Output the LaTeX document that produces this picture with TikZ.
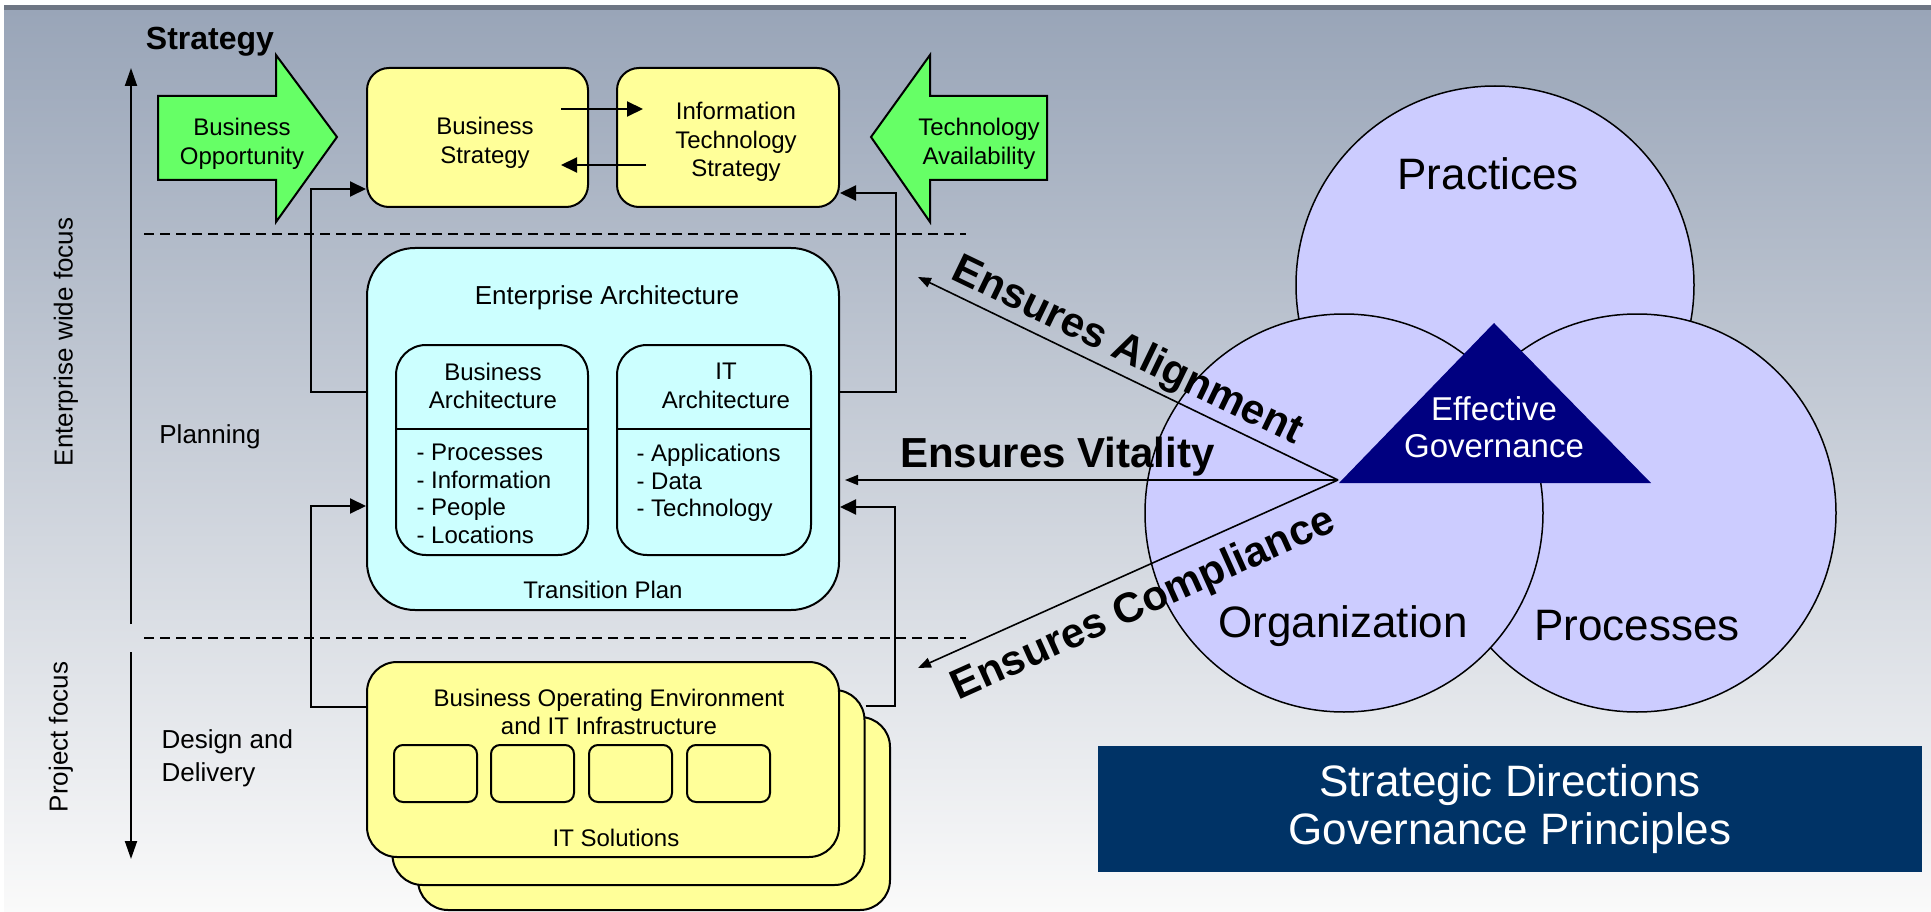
\documentclass[tikz,border=0pt]{standalone}
\usepackage{fontspec}
\setmainfont{Liberation Sans}
\usetikzlibrary{arrows.meta}
\usetikzlibrary{positioning}
\definecolor{oppgreen}{HTML}{66FF66}
\definecolor{boxyellow}{HTML}{FFFF99}
\definecolor{eacyan}{HTML}{CCFFFF}
\definecolor{circlelilac}{HTML}{CCCCFF}
\definecolor{govnavy}{HTML}{000080}
\definecolor{titleblue}{HTML}{003366}
\definecolor{bgtop}{HTML}{99A5B8}
\definecolor{bgbot}{HTML}{FAFAFA}
\definecolor{topbar}{HTML}{6E7684}
\tikzset{
  boxtext/.style={font=\fontsize{24}{28.5}\selectfont, align=center},
  listtext/.style={font=\fontsize{24}{27.7}\selectfont, align=left},
  sidetext/.style={font=\fontsize{26}{33}\selectfont, align=left},
  bigtext/.style={font=\fontsize{44}{48}\selectfont, align=center},
  ensuretext/.style={font=\bfseries\fontsize{42}{48}\selectfont, inner sep=0pt},
  yellowbox/.style={draw, line width=2pt, fill=boxyellow, rounded corners=22pt},
  stackbox/.style={draw, line width=2pt, fill=boxyellow, rounded corners=30pt, minimum width=472pt, minimum height=195pt},
  archbox/.style={draw, line width=2pt, fill=eacyan, rounded corners=30pt},
  slotbox/.style={draw, line width=2pt, fill=boxyellow, rounded corners=9pt, minimum width=83pt, minimum height=57pt},
  bubble/.style={circle, draw, line width=1.5pt, fill=circlelilac, minimum size=398pt},
  greenarrow/.style={draw, line width=2pt, fill=oppgreen},
  flow/.style={line width=2pt, -{Triangle[length=16pt,width=15pt]}},
  ensure/.style={line width=1.6pt, -{Triangle[length=13pt,width=10pt]}},
  axis/.style={line width=2pt, -{Triangle[length=18pt,width=12pt]}},
  divider/.style={line width=2pt, dash pattern=on 10pt off 6pt}
}
\begin{document}
\begin{tikzpicture}[x=1pt,y=-1pt]
  \useasboundingbox (0,0) rectangle (1931,912);
  \fill[white] (0,0) rectangle (1931,912);
  \shade[top color=bgtop, bottom color=bgbot] (4,10) rectangle (1931,912);
  \fill[topbar] (4,5) rectangle (1931,10);

  \node[font=\bfseries\fontsize{32}{38}\selectfont] (strategy) at (210,42) {Strategy};
  \coordinate (axtop) at (131,68);
  \coordinate (axmidA) at (131,624);
  \coordinate (axmidB) at (131,652);
  \coordinate (axbot) at (131,859);
  \draw[axis] (axmidA) -- (axtop);
  \draw[axis] (axmidB) -- (axbot);
  \node[sidetext, rotate=90] (entfocus) at (66,342) {Enterprise wide focus};
  \node[sidetext, rotate=90] (projfocus) at (61,737) {Project focus};
  \node[sidetext] (planning) at (210,437) {Planning};
  \node[sidetext, anchor=west] (delivery) at (158,758) {Design and\\Delivery};

  \coordinate (dashAL) at (144,234);
  \coordinate (dashAR) at (966,234);
  \coordinate (dashBL) at (144,638);
  \coordinate (dashBR) at (966,638);
  \draw[divider] (dashAL) -- (dashAR);
  \draw[divider] (dashBL) -- (dashBR);

  \draw[greenarrow] (158,96) -- (276,96) -- (276,55) -- (337,137) -- (276,222) -- (276,180) -- (158,180) -- cycle;
  \node[boxtext] (bizopp) at (242,144) {Business\\Opportunity};
  \draw[greenarrow] (1047,96) -- (930,96) -- (930,55) -- (871,137) -- (930,222) -- (930,180) -- (1047,180) -- cycle;
  \node[boxtext] (techavail) at (979,144) {Technology\\Availability};

  \node[yellowbox, minimum width=221pt, minimum height=139pt] (bizstrat) at (477.5,137.5) {};
  \node[yellowbox, minimum width=222pt, minimum height=139pt] (itstrat) at (728,137.5) {};
  \node[boxtext] (bizstrattxt) at (485,143) {Business\\Strategy};
  \node[boxtext] (itstrattxt) at (736,142) {Information\\Technology\\Strategy};
  \coordinate (bizout) at (561,109);
  \coordinate (itin) at (643,109);
  \coordinate (itout) at (646,165);
  \coordinate (bizin) at (561,165);
  \draw[flow] (bizout) -- (itin);
  \draw[flow] (itout) -- (bizin);

  \node[archbox, rounded corners=48pt, minimum width=472pt, minimum height=362pt] (ea) at (603,429) {};
  \node[font=\fontsize{26}{30}\selectfont] (eatitle) at (607,298) {Enterprise Architecture};
  \node[archbox, minimum width=192pt, minimum height=210pt] (bizarch) at (492,450) {};
  \node[archbox, minimum width=194pt, minimum height=210pt] (itarch) at (714,450) {};
  \draw[line width=1.5pt] (bizarch.west |- 0,429) -- (bizarch.east |- 0,429);
  \draw[line width=1.5pt] (itarch.west |- 0,429) -- (itarch.east |- 0,429);
  \node[boxtext] (bizarchtitle) at (493,386) {Business\\Architecture};
  \node[boxtext] (itarchtitle) at (726,386) {IT\\Architecture};
  \node[listtext, anchor=west] (bizlist) at (413,494) {- Processes\\- Information\\- People\\- Locations};
  \node[listtext, anchor=west] (itlist) at (633,483) {- Applications\\- Data\\- Technology};
  \node[boxtext] (transition) at (603,590) {Transition Plan};

  \draw[flow] (ea.west |- 0,392) -| (311,189) -- (bizstrat.west |- 0,189);
  \draw[flow] (ea.east |- 0,392) -| (896,193) -- (itstrat.east |- 0,193);

  \node[stackbox, minimum height=193pt] (solback) at (654,813.5) {};
  \node[stackbox] (solmid) at (628.5,787.5) {};
  \draw[flow] (solmid.east |- 0,706) -| (895,507) -- (ea.east |- 0,507);
  \node[stackbox] (solfront) at (603,759.5) {};
  \draw[flow] (solfront.west |- 0,707) -| (311,506) -- (ea.west |- 0,506);
  \node[boxtext] (openv) at (609,712) {Business Operating Environment\\and IT Infrastructure};
  \foreach \x [count=\i] in {435.5,532.5,630.5,728.5}
    \node[slotbox] (slot\i) at (\x,773.5) {};
  \node[boxtext] (itsolutions) at (616,838) {IT Solutions};

  \node[bubble] (practices) at (1495,285) {};
  \node[bubble] (processes) at (1637,513) {};
  \node[bubble] (organization) at (1344,513) {};
  \node[bigtext] (practicestxt) at (1488,174) {Practices};
  \node[bigtext] (organizationtxt) at (1343,626) {Organization};
  \node[bigtext] (processestxt) at (1637,626) {Processes};
  \fill[govnavy] (1339,483) -- (1494,323) -- (1651,483) -- cycle;
  \node[font=\fontsize{33}{37}\selectfont, text=white, align=center] (governance) at (1494,427) {Effective\\Governance};

  \coordinate (hub) at (1338,480);
  \coordinate (alignend) at (918,277);
  \coordinate (vitalend) at (845,480);
  \coordinate (complend) at (918,668);
  \draw[ensure] (hub) -- (alignend);
  \draw[ensure] (hub) -- (vitalend);
  \draw[ensure] (hub) -- (complend);
  \node[ensuretext, rotate=-25.7] (aligntxt) at (1127,352) {Ensures Alignment};
  \node[ensuretext, anchor=base west] (vitaltxt) at (900,467) {Ensures Vitality};
  \node[ensuretext, rotate=24.2] (compltxt) at (1144,605) {Ensures Compliance};

  \node[fill=titleblue, text=white, bigtext, minimum width=824pt, minimum height=126pt] (principles) at (1510,809) {Strategic Directions\\Governance Principles};
\end{tikzpicture}
\end{document}
